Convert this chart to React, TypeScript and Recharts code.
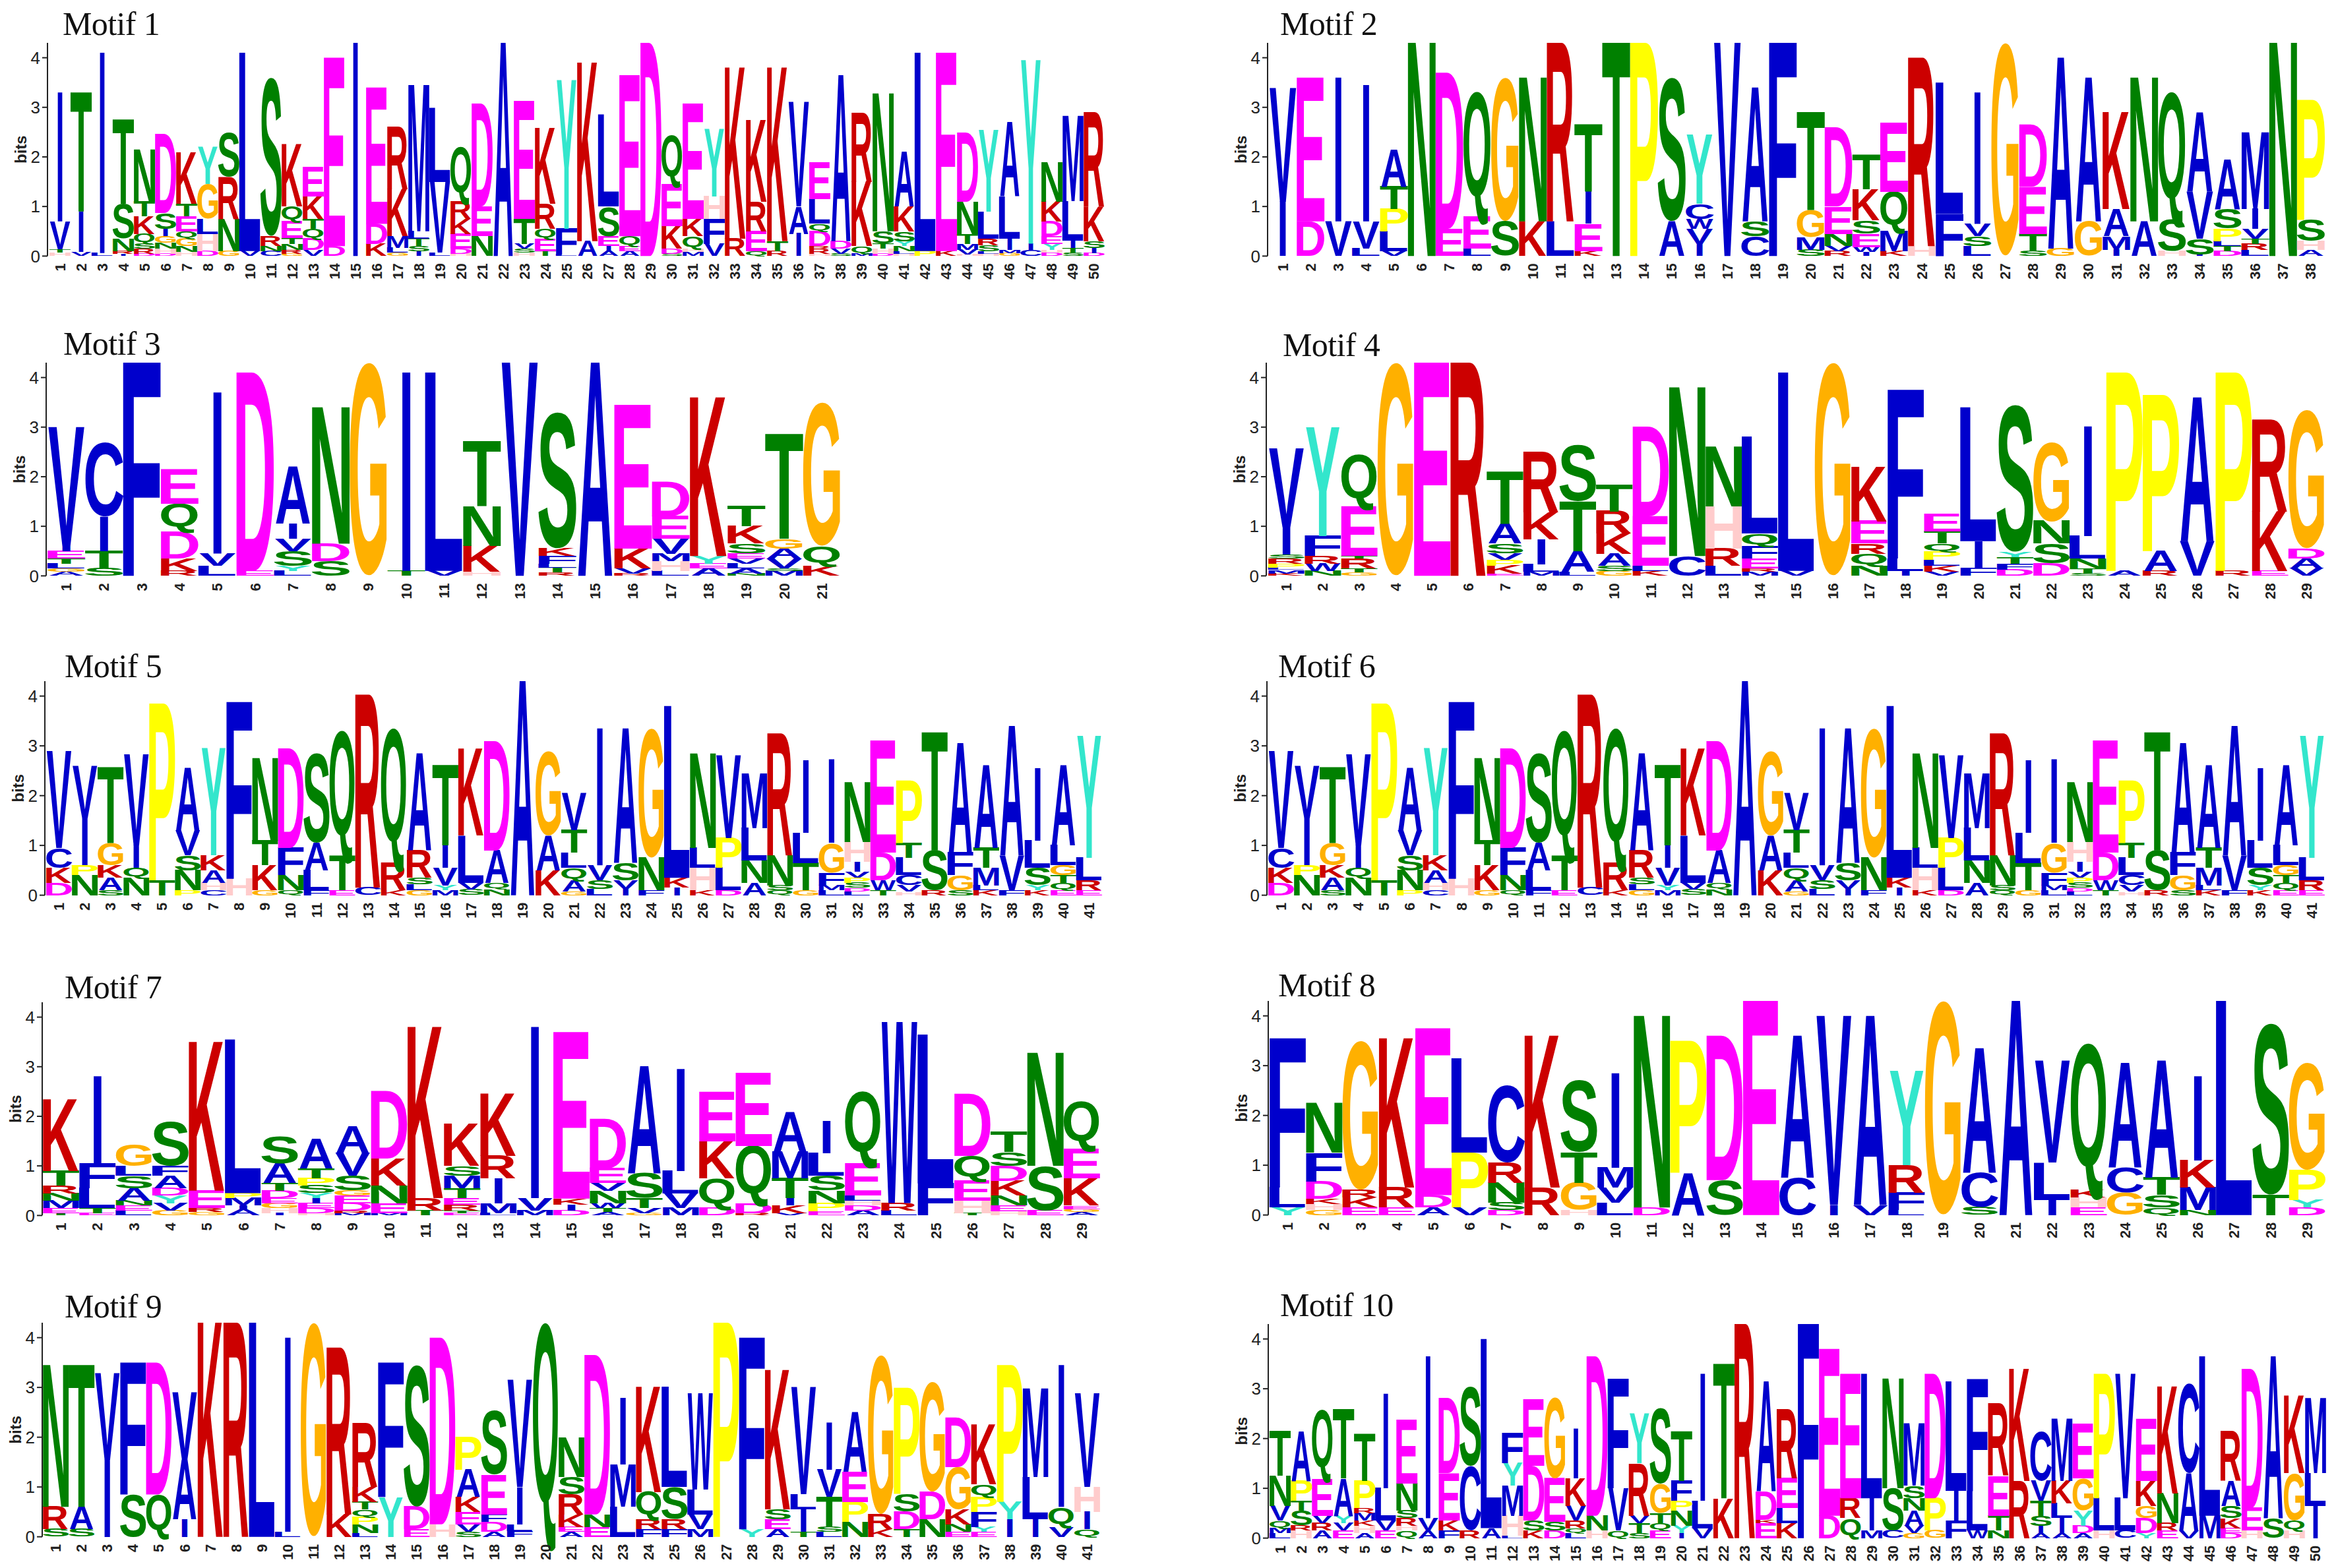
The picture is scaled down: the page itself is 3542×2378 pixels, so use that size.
import React from "react";
import { Bar, BarChart, XAxis, YAxis } from "recharts";

// every position is a stack of residues, bottom to top: letter + height in bits
const motif1 = [
  "H.07 T.07 V.56 I2.6", "V.08 I.82 T2.4", "L.06 I4.04", "I.04 R.06 N.25 S.7 T1.7", "D.05 R.1 S.1 Q.2 K.35 T.3 N1.05",
  "D.05 H.1 N.12 G.13 I.15 S.32 D1.6", "H.08 N.12 G.15 Q.15 E.3 T.25 K1.03", "D.1 H.35 L.3 G.7 Y.75", "G.1 N.65 R.85 S.9", "V.1 L4",
  "C.1 N.1 R.2 S3.2", "G.05 R.08 N.12 T.12 E.33 Q.3 K1.25", "V.12 D.23 Q.2 T.2 K.45 E.6", "D.2 E3.8", "I4.3",
  "K.25 D.4 E2.75", "G.07 L.1 M.23 K.95 R1.25", "I.1 S.1 T.15 L.15 M2.95", "L.07 V1.43 L1.5", "H.05 D.1 E.3 K.3 R.35 Q1.1",
  "N.4 E.6 D2.08", "A4.3", "H.07 S.08 V.1 T.5 E2.38", "T.1 E.25 Q.2 R.5 K1.53", "L.03 F.52 Y3",
  "A.3 K3.6", "A.1 I.1 E.2 S.6 L1.85", "A.1 E.1 Q.2 E3.25", "D4.3", "S.05 D.1 K.45 E.85 Q1",
  "M.08 H.07 Q.25 K.35 E2.33", "V.25 F.5 H.45 Y1.35", "R.35 K3.45", "Q.1 E.4 R.6 K1.65", "R.1 T.2 K3.5",
  "I.45 A.55 V2.1", "H.05 R.1 R.05 D.3 Q.15 L.5 E.75", "S.05 V.1 D.15 A3.35", "M.05 Q.15 K1.3 R1.4", "D.05 H.1 T.1 S.25 N2.78",
  "H.05 L.05 N.1 Y.1 S.2 K.5 A1.1", "P.1 L4", "K.1 E4", "H.03 V.1 M.12 T.2 N.65 D1.4", "H.05 L.05 S.12 R.13 L.55 Y1.65",
  "G.06 M.07 I.22 L.85 A1.5", "C.12 I.13 Y3.7", "D.07 H.05 Y.13 E.15 D.3 K.4 N.8", "S.06 T.1 I.15 L.8 M1.72", "D.06 I.1 S.14 K.7 R1.9",
];

const motif2 = [
  "I1.1 V2.3", "D.7 E2.9", "V.7 I2.9", "L.15 V.55 I2.75", "V.1 L.4 P.45 T.45 A.75", "N4.3", "E.55 D3.15", "L.15 E.65 Q2.5",
  "S.7 G2.9", "K.7 N2.9", "L.7 R3.6", "K.1 E.55 I.65 T1.35", "T4.3", "P4.3", "A.7 S2.9", "I.25 V.3 W.2 C.3 Y1.4",
  "V4.3", "C.4 S.3 A2.7", "F4.3", "S.13 M.25 G.55 T1.97", "R.1 V.1 N.25 E.55 D1.6", "I.08 W.1 E.27 S.27 K.63 T.7", "K.1 M.4 Q.8 E1.4", "H.2 R3.8",
  "F.85 L2.65", "L.2 S.2 V.25 I2.65", "G4.3", "S.1 T.35 E.95 D1.25", "G.15 A3.85", "G.7 A2.9", "I.13 M.27 A.55 K1.95", "A.7 N2.9",
  "H.1 S.65 Q2.55", "I.03 S.32 V.95 A1.6", "D.1 T.1 L.1 P.25 S.4 A1", "L.12 R.13 T.1 V.2 I.4 M1.55", "N4.3", "A.12 H.18 S.43 P2.42",
];

const motif3 = [
  "A.08 G.07 L.1 T.1 E.15 I.1 V2.4", "S.15 T.35 I.7 C1.5", "F4.3", "R.1 K.25 D.55 Q.55 E.7", "L.2 V.25 I3.25", "E.1 D4", "L.1 Y.1 S.3 V.25 I.3 A1.15",
  "S.3 D.35 N2.75", "G4.3", "T.1 I4", "V.1 L4", "H.08 K.52 N.8 T1.3", "V4.3", "R.07 T.1 L.08 F.15 K.15 S2.75",
  "A4.3", "R.05 V.1 K.4 E2.9", "L.1 H.2 M.15 V.3 E.45 D.7", "A.15 E.1 Y.15 K3.2", "N.05 A.1 L.1 V.1 E.1 S.2 K.35 T.4", "M.1 S.05 V.2 A.2 G.2 T2.1", "K.2 Q.4 G2.9",
];

const motif4 = [
  "K.05 M.07 L.05 P.08 R.1 S.08 I.55 V1.6", "N.1 W.15 R.15 F.4 Y2.2", "G.07 T.08 R.2 T.05 E1 Q1.05", "G4.3", "E4.3", "R4.3",
  "E.04 K.16 P.12 V.13 S.2 A.4 T1.05", "M.08 L.15 I.5 K.55 R1.22", "L.08 A.42 T1 S1.15", "G.1 S.1 A.25 K.4 R.45 T.55", "K.1 L.1 E1 D1.8", "C.4 N3.4",
  "L.2 R.35 H.85 N1.2", "M.08 R.07 E.2 F.25 Q.25 L1.95", "V.1 L4", "G4.3", "N.2 Q.25 R.2 E.45 K1.1", "I.1 L.25 F3.4",
  "V.08 K.12 L.12 P.16 Q.17 T.25 E.35", "F.15 I.55 L2.7", "D.13 F.12 T.13 Y.1 S2.97", "D.25 S.4 N.45 G1.6", "S.05 T.1 N.2 L.45 I2.2", "A.1 P4",
  "R.1 A.4 P3.15", "V.7 A2.9", "R.1 P4", "E.1 K1.2 R1.85", "V.15 A.2 D.2 G2.8",
];

const motif5 = [
  "D.25 K.3 C.4 V1.95", "N.4 P.2 I.95 V1.05", "S.1 A.25 K.25 G.45 T1.53", "N.35 Q.2 I.45 V1.83", "T.3 P3.55", "P.1 N.4 S.3 V.5 A1.25",
  "C.1 H.15 A.25 K.3 Y2.15", "H.33 F3.55", "G.1 K.5 T.5 N1.65", "Q.1 N.3 F.55 D2", "F.1 L.4 A.55 S1.8", "E.1 T.7 Q2.5",
  "C.15 R3.88", "K.1 R.55 Q2.7", "G.1 L.12 S.13 R.55 A1.95", "M.1 Y.1 V.35 I.45 T1.6", "S.12 V.13 L.95 K1.75", "N.12 Q.13 A.65 D2.2",
  "A4.3", "K.5 A.7 G1.7", "G.08 A.22 Q.25 L.3 T.45 V.75", "L.13 S.17 V.3 I2.75", "I.13 V.17 S.35 A2.7", "F.1 N.65 G2.6",
  "I.15 K.2 L3.45", "K.1 H.45 L.4 N1.9", "D.1 L.45 P.6 V1.65", "A.25 N.45 L.65 M1.1", "Q.1 S.1 N.6 R2.45", "G.1 T.55 L.6 I1.45",
  "L.1 M.1 F.25 G.6 I1.67", "L.08 D.07 S.1 P.1 V.12 I.2 H.4 N1.2", "T.1 W.2 D.55 E2.25", "H.07 V.13 C.2 L.35 T.3 P1.25", "R.1 S.8 T2.37", "S.1 G.3 F.45 A2.2",
  "K.1 L.1 M.35 T.4 A1.65", "F.1 V.7 A2.6", "K.1 Y.1 S.35 L.55 I1.45", "E.1 Q.15 T.15 G.2 L.4 A1.6", "E.1 R.2 L.45 Y2.45",
];

const motif6 = [...motif5];

const motif7 = [
  "T.05 E.1 M.15 N.15 R.15 T.3 K1.45", "E.05 T.1 L.4 F.5 I1.75", "L.1 E.1 N.1 A.25 S.25 L.2 G.43", "G.1 V.15 Y.15 D.15 A.25 F.2 S.9", "G.07 R.08 E.35 K3", "A.12 I.08 M.15 P.1 L3.1",
  "I.05 H.1 G.1 E.1 D.15 T.15 A.4 S.55", "H.05 D.1 E.1 I.1 Y.1 S.15 P.15 T.2 A.6", "M.05 R.05 D.15 E.15 G.1 S.3 V.45 A.55", "M.05 E.2 N.35 K.55 D1.35", "T.1 R.25 K3.45", "E.05 T.05 R.12 E.13 T.2 M.25 S.2 K.85",
  "L.05 M.2 I.5 R.45 K1.25", "M.1 V.25 I3.45", "D.1 I.12 K.12 E3.36", "A.07 T.08 W.1 N.25 V.15 E.3 D1", "G.05 V.1 T.2 S.5 A2.15", "M.15 V.3 L.45 I2.05",
  "D.15 Q.6 K.75 E1", "R.05 D.2 Q1.15 E1.48", "V.05 K.15 I.15 T.4 M.55 A.8", "E.08 P.17 N.25 S.3 L.45 I.65", "A.1 D.1 H.1 L.1 E.65 Q1.45", "L.1 R.15 W3.65",
  "F.65 L3", "T.05 H.25 E.4 Q.5 D1.25", "H.08 E.12 N.2 K.3 D.3 S.28 T.4", "E.1 S.9 N2.28", "A.07 G.06 E.07 K.55 E.6 Q.95",
];

const motif8 = [
  "Y.15 L.4 F3", "G.1 H.12 K.1 D.35 F.58 N1", "E.15 K.2 R.15 G3", "E.15 R.4 K3", "A.15 D.25 E3.35", "V.15 P1.1 L1.9", "D.1 S.15 N.4 R.4 C1.55",
  "R.55 K3.05", "H.1 G.55 T.6 S1.45", "L.25 V.3 M.4 I1.9", "D.15 N3.85", "A.85 P2.65", "S.7 D2.9", "E4.3",
  "C.75 A2.85", "I.2 V3.8", "V.2 A3.8", "L.1 F.35 R.55 Y1.9", "G4.3", "S.15 C.7 A2.5", "A4.3", "I.3 L.75 V2.05",
  "E.15 H.2 K.15 Q2.95", "G.45 C.5 A2.1", "Q.15 S.25 T.35 A2.35", "N.1 M.45 K.55 I1.7", "L4.3", "T.4 S3.45", "D.15 Y.15 P.6 G2.15",
];

const motif9 = [
  "S.15 R.45 N2.85", "S.15 A.45 T2.85", "I1.55 V1.75", "S.85 F2.65", "Q.85 D2.65", "I.35 A1.2 V1.35", "K4.3", "R4.3", "L4.3", "L.1 I3.9",
  "G4.3", "K.45 R3.35", "L.08 N.17 P.15 Q.15 T.15 K.3 R1.28", "Y.8 F2.7", "E.15 D.45 S2.85", "H.25 D3.75", "S.1 V.15 E.25 K.3 A.55 P.65",
  "A.1 D.2 F.15 E.8 S1.3", "F.12 L.13 I.75 V2.15", "Q4.3", "A.1 E.1 K.25 R.4 S.35 N.8", "E.2 N.25 D3.2", "L.6 M.85 I1.33", "F.15 R.2 Q.55 K2.12",
  "F.15 R.2 S.65 L2.02", "M.15 V.3 L.5 W1.93", "P4.3", "Y.15 F3.85", "A.15 E.2 S.2 K2.8", "T.1 I.45 L.3 V2.15", "L.1 S.1 T.6 V.55 I.95",
  "N.3 P.4 E.6 A1.2", "K.15 R.3 G3.2", "T.15 D.35 S.35 P2.13", "N.35 D.55 G2.2", "E.1 N.15 K.3 G.85 D1", "E.1 Y.1 F.3 P.3 Q.25 K1.2",
  "I.35 Y.35 P2.75", "I.35 L.85 M1.78", "V.2 Q.4 I2.85", "Q.15 I.35 H.5 V1.88",
];

const motif10 = [
  "L.1 M.1 Q.15 V.3 N.6 T.9", "H.15 R.1 S.3 T.2 P.4 A1", "A.15 R.15 V.15 E.75 Q1.38", "E.15 V.15 Y.15 A.75 T1.38", "A.1 H.15 K.1 M.15 R.1 P.55 T.95",
  "E.15 V.2 L.65 I1.9", "Q.15 H.1 R.15 S.15 N.55 E1.28", "A.15 V.25 I3.25", "F.15 K.2 E.95 D1.5", "R.15 C1.3 S1.6",
  "A.2 L3.8", "L.05 H.4 M.6 Y.45 F.6", "K.15 S.2 D1.1 E1.33", "D.15 S.17 E.88 G1.63", "L.1 Q.1 R.15 V.3 K.55 I1",
  "H.15 N.3 D3.2", "Q.15 V.85 F2.2", "S.1 T.2 V.15 R1.05 Y1", "E.15 Q.15 T.2 G.6 S1.52", "I.1 Y.15 N.3 P.2 F.4 T1",
  "V.2 L.55 I2.55", "K.8 T2.7", "R4.3", "E.3 K.07 D.58 A2.2", "K.3 L.3 E.6 R1.38",
  "F4.3", "D.45 E3.35", "Q.4 R.4 E2.5", "M.15 I.65 L2.5", "C.15 S.85 N2.2",
  "G.1 V.15 A.3 N.25 S.25 M1.25", "G.15 P.65 D2.5", "F.35 I.6 L2.2", "W.15 L.8 F2.25", "N.15 T.3 E.8 R1.45",
  "R1.15 K2.25", "A.1 I.15 S.2 T.3 V.4 C1", "A.1 I.3 L.3 K.45 M1.25", "A.1 D.15 Y.3 G.65 E1.1", "H.15 L.65 P2.5",
  "C.15 L.65 V2.5", "Y.1 D.3 G.25 K.5 E1.25", "E.15 R.15 N.6 K2.15", "V.15 A1.15 C1.8", "M.45 L3.2",
  "D.1 E.1 K.2 S.25 A.5 R1", "H.15 E.45 D2.8", "S.4 A3.25", "H.15 Q.2 G.95 K1.55", "I.65 L.65 M1.5",
];

const motifs = [motif1, motif2, motif3, motif4, motif5, motif6, motif7, motif8, motif9, motif10];
const yTicks = [0, 1, 2, 3, 4];
const maxBits = 4.3;

// pixel layout of the panels
const panels = [
  { axisX: 72, start: 75, end: 1675, y0: 388, bit: 75.2, titleX: 95, titleY: 53 },
  { axisX: 1922, start: 1924, end: 3525, y0: 388, bit: 75.2, titleX: 1941, titleY: 53 },
  { axisX: 70, start: 72, end: 1275, y0: 873, bit: 75.2, titleX: 96, titleY: 538 },
  { axisX: 1920, start: 1923, end: 3525, y0: 873, bit: 75.2, titleX: 1945, titleY: 540 },
  { axisX: 68, start: 70, end: 1671, y0: 1358, bit: 75.5, titleX: 98, titleY: 1027 },
  { axisX: 1921, start: 1923, end: 3525, y0: 1358, bit: 75.5, titleX: 1938, titleY: 1027 },
  { axisX: 64, start: 65, end: 1668, y0: 1843, bit: 75.2, titleX: 98, titleY: 1514 },
  { axisX: 1923, start: 1925, end: 3526, y0: 1843, bit: 75.5, titleX: 1938, titleY: 1511 },
  { axisX: 64, start: 65, end: 1668, y0: 2331, bit: 75.5, titleX: 98, titleY: 1998 },
  { axisX: 1923, start: 1925, end: 3527, y0: 2333, bit: 75.5, titleX: 1941, titleY: 1996 },
];

const colors: Record<string, string> = {
  A: "#0000cc", C: "#0000cc", F: "#0000cc", I: "#0000cc", L: "#0000cc", M: "#0000cc", V: "#0000cc", W: "#0000cc",
  D: "#ff00ff", E: "#ff00ff", G: "#ffb000", H: "#ffcccc", K: "#cc0000", R: "#cc0000",
  N: "#008000", Q: "#008000", S: "#008000", T: "#008000", P: "#ffff00", Y: "#33e6cc",
};

// ink box of the bold sans glyphs in em: left, right, bottom, top
const ink: Record<string, number[]> = {
  A: [0, 0.722, 0, 0.688], C: [0.047, 0.676, -0.012, 0.7], D: [0.074, 0.675, 0, 0.688], E: [0.073, 0.619, 0, 0.688],
  F: [0.073, 0.568, 0, 0.688], G: [0.05, 0.72, -0.012, 0.7], H: [0.073, 0.647, 0, 0.688], I: [0.07, 0.207, 0, 0.688],
  K: [0.073, 0.72, 0, 0.688], L: [0.077, 0.585, 0, 0.688], M: [0.072, 0.76, 0, 0.688], N: [0.073, 0.645, 0, 0.688],
  P: [0.073, 0.622, 0, 0.688], Q: [0.048, 0.744, -0.14, 0.7], R: [0.074, 0.715, 0, 0.688], S: [0.04, 0.62, -0.012, 0.7],
  T: [0.021, 0.59, 0, 0.688], V: [0, 0.665, 0, 0.688], W: [0.004, 0.94, 0, 0.688], Y: [0, 0.668, 0, 0.688],
};

const sans = "'Liberation Sans', Arial, sans-serif";

function toRows(motif: string[]) {
  return motif.map((stack, i) => {
    const row: Record<string, any> = { pos: String(i + 1) };
    stack.split(" ").forEach((token, slot) => {
      row[`l${slot}`] = token[0];
      row[`v${slot}`] = parseFloat(token.slice(1));
    });
    return row;
  });
}

function Letter({ x, y, width, height, payload, slot }: any) {
  const letter = payload?.[`l${slot}`];
  if (!letter || !(height > 0)) return null;
  const [left, right, bottom, top] = ink[letter];
  const w = width * (letter === "I" ? 0.2 : 0.97);
  const sx = w / ((right - left) * 100);
  const sy = height / ((top - bottom) * 100);
  const tx = x + (width - w) / 2 - left * 100 * sx;
  const ty = y + height + bottom * 100 * sy;
  return (
    <text
      transform={`translate(${tx} ${ty}) scale(${sx} ${sy})`}
      fontFamily={sans}
      fontWeight="bold"
      fontSize={100}
      fill={colors[letter]}
    >
      {letter}
    </text>
  );
}

function PosTick({ x, y, payload }: any) {
  return (
    <text
      transform={`translate(${x} ${y + 3}) rotate(-90)`}
      textAnchor="end"
      dominantBaseline="central"
      fontFamily={sans}
      fontWeight="bold"
      fontSize={22}
      fill="#222"
    >
      {payload.value}
    </text>
  );
}

function Motif({ index }: { index: number }) {
  const p = panels[index];
  const rows = toRows(motifs[index]);
  const slots = Math.max(...motifs[index].map((s) => s.split(" ").length));
  const yWidth = 62;
  const headroom = 10;
  const plotH = maxBits * p.bit;
  return (
    <div style={{ position: "absolute", left: p.axisX - yWidth, top: p.y0 - plotH - headroom }}>
      <BarChart
        width={p.end - p.axisX + yWidth + 6}
        height={plotH + 44 + headroom}
        data={rows}
        barCategoryGap={0}
        barGap={0}
        margin={{ top: headroom, right: 6, bottom: 0, left: 0 }}
      >
        <XAxis
          dataKey="pos"
          height={44}
          interval={0}
          axisLine={false}
          tickLine={false}
          padding={{ left: p.start - p.axisX, right: 0 }}
          tick={<PosTick />}
        />
        <YAxis
          type="number"
          width={yWidth}
          domain={[0, maxBits]}
          ticks={yTicks}
          stroke="#222"
          strokeWidth={2}
          tickSize={8}
          tickMargin={3}
          tick={{ fontFamily: "'Liberation Sans Narrow', " + sans, fontSize: 26, fill: "#222" }}
          label={{
            value: "bits",
            angle: -90,
            position: "insideLeft",
            offset: 21,
            style: { fontFamily: sans, fontWeight: "bold", fontSize: 24, fill: "#222", textAnchor: "middle" },
          }}
        />
        {Array.from({ length: slots }, (_, slot) => (
          <Bar
            key={slot}
            dataKey={`v${slot}`}
            stackId="logo"
            isAnimationActive={false}
            shape={(props: any) => <Letter {...props} slot={slot} />}
          />
        ))}
      </BarChart>
    </div>
  );
}

export default function App() {
  return (
    <div style={{ position: "absolute", left: 0, top: 0, width: 3542, height: 2378, background: "#fff", overflow: "hidden" }}>
      {panels.map((p, i) => (
        <div
          key={i}
          style={{
            position: "absolute",
            left: p.titleX,
            top: p.titleY - 42,
            fontFamily: "'Liberation Serif', serif",
            fontSize: 50,
            letterSpacing: -0.6,
            lineHeight: 1,
            color: "#111",
            whiteSpace: "nowrap",
          }}
        >
          {`Motif ${i + 1}`}
        </div>
      ))}
      {panels.map((_, i) => (
        <Motif key={i} index={i} />
      ))}
    </div>
  );
}
